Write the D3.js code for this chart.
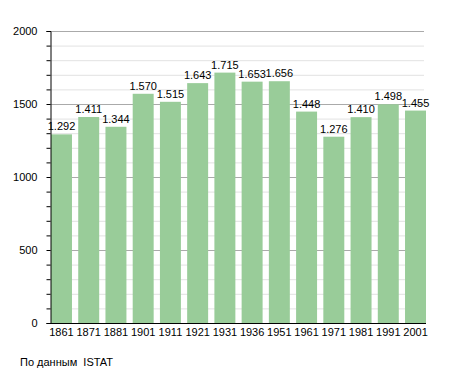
<!DOCTYPE html>
<html>
<head>
<meta charset="utf-8">
<script src="https://cdn.jsdelivr.net/npm/d3@7"></script>
<style>
  body { margin: 0; background: #fff; }
  text { font-family: "Liberation Sans", Arial, sans-serif; }
</style>
</head>
<body>
<div id="vis-container"></div>
<script>
let years = ["1861","1871","1881","1901","1911","1921","1931","1936","1951","1961","1971","1981","1991","2001"];
let population = [1292,1411,1344,1570,1515,1643,1715,1653,1656,1448,1276,1410,1498,1455];
let yTicks = [0,500,1000,1500,2000];

let w = 455;
let h = 373;
let mLeft = 50, mRight = 426, mTop = 31, mBottom = 323;

let svg = d3.select("#vis-container")
  .append("svg")
  .attr("width", w)
  .attr("height", h);

let x = d3.scaleBand()
  .domain(years)
  .range([mLeft + 1, mRight])
  .paddingInner(0.23)
  .paddingOuter(0);

let y = d3.scaleLinear()
  .domain([0, 2000])
  .range([mBottom, mTop]);

// minor grid every 100
let minor = d3.range(100, 2001, 100).filter(d => d % 500 != 0);
svg.selectAll("line.minor")
  .data(minor)
  .enter()
  .append("line")
  .attr("x1", mLeft).attr("x2", mRight - 2)
  .attr("y1", d => y(d) + 0.5).attr("y2", d => y(d) + 0.5)
  .attr("stroke", "#e2e2e2");

svg.selectAll("line.major")
  .data(yTicks.filter(d => d > 0))
  .enter()
  .append("line")
  .attr("x1", mLeft).attr("x2", mRight - 2)
  .attr("y1", d => y(d) + 0.5).attr("y2", d => y(d) + 0.5)
  .attr("stroke", "#aaaaaa");

svg.selectAll("rect")
  .data(population)
  .enter()
  .append("rect")
  .attr("x", (d, i) => x(years[i]))
  .attr("y", d => y(d))
  .attr("width", x.bandwidth())
  .attr("height", d => mBottom - y(d))
  .attr("fill", "#99cc99");

let fmt = d => d3.format(",")(d).replace(",", ".");

svg.selectAll("text.val")
  .data(population)
  .enter()
  .append("text")
  .attr("x", (d, i) => x(years[i]) + x.bandwidth() / 2)
  .attr("y", d => y(d) - 4)
  .attr("text-anchor", "middle")
  .attr("font-size", 11)
  .attr("fill", "#000")
  .text(fmt);

// y axis
let yAxis = d3.axisLeft(y)
  .tickValues(d3.range(0, 2001, 100))
  .tickSize(4)
  .tickFormat(d => d % 500 == 0 ? d : "");
let ga = svg.append("g")
  .attr("transform", `translate(${mLeft + 0.5},0)`)
  .call(yAxis);
ga.select(".domain").attr("stroke", "#000");
ga.selectAll(".tick line").attr("stroke", "#000");
ga.selectAll(".tick text")
  .attr("font-size", 11)
  .attr("font-family", "Liberation Sans, Arial, sans-serif")
  .attr("x", -13);

// x axis
let xAxis = d3.axisBottom(x).tickSize(0).tickPadding(5);
let gx = svg.append("g")
  .attr("transform", `translate(0,${mBottom + 0.5})`)
  .call(xAxis);
gx.select(".domain").attr("stroke", "#000").attr("d", `M${mLeft},0H${mRight}`);
gx.selectAll(".tick text")
  .attr("font-size", 11)
  .attr("font-family", "Liberation Sans, Arial, sans-serif");

svg.append("text")
  .attr("x", 20)
  .attr("y", 366)
  .attr("font-size", 11)
  .text("По данным\u00a0 ISTAT");
</script>
</body>
</html>
